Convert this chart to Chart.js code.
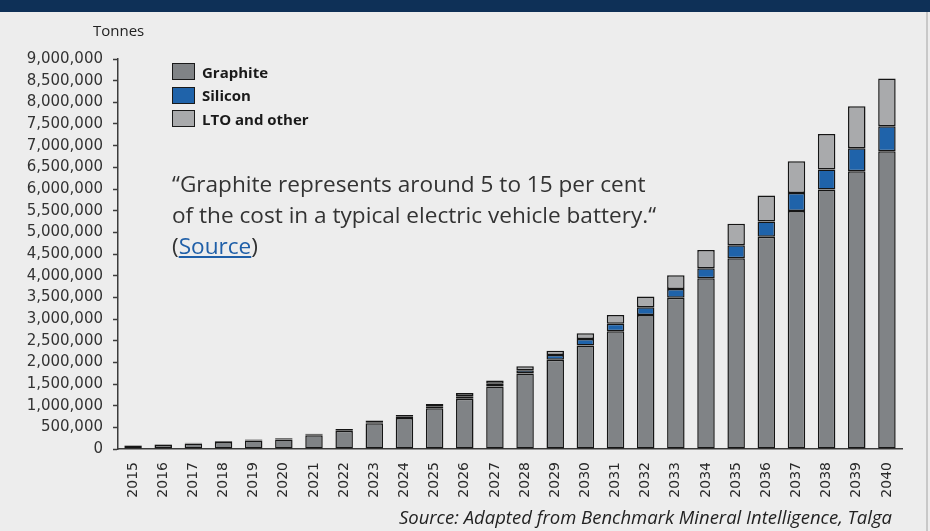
<!DOCTYPE html>
<html>
<head>
<meta charset="utf-8">
<script src="https://cdn.jsdelivr.net/npm/chart.js@4.4.1/dist/chart.umd.min.js"></script>
<style>
  body { margin: 0; background: #ededed; }
  #wrap { position: relative; width: 930px; height: 531px; overflow: hidden; background: #ededed; }
  #topbar { position: absolute; left: 0; top: 0; width: 930px; height: 12px; background: #0e3057; }
  #edge { position: absolute; left: 926px; top: 12px; width: 2px; height: 519px; background: #c8c8c8; }
  canvas { position: absolute; left: 0; top: 0; }
  #unit { position: absolute; left: 93px; top: 20px; font: 15px "Open Sans", sans-serif; color: #222; }
  #legend { position: absolute; left: 172px; top: 60px; font: bold 15px "Open Sans", sans-serif; color: #1a1a1a; }
  #legend div { height: 23.5px; display: flex; align-items: center; }
  #legend span.box { width: 21px; height: 15px; border: 1.5px solid #1a1a1a; margin-right: 7px; display: inline-block; }
  #quote { position: absolute; left: 172px; top: 168px; font: 22.6px "Open Sans", sans-serif; line-height: 31px; color: #333; }
  #quote .link { color: #1f5fa8; text-decoration: underline; }
  #credit { position: absolute; right: 38px; top: 504px; font: italic 18.5px "Open Sans", sans-serif; color: #222; }
</style>
</head>
<body>
<div id="wrap">
  <canvas id="graphiteChart" width="930" height="531"></canvas>
  <div id="topbar"></div>
  <div id="edge"></div>
  <div id="unit">Tonnes</div>
  <div id="legend"></div>
  <div id="quote">“Graphite represents around 5 to 15 per cent<br>of the cost in a typical electric vehicle battery.“<br>(<span class="link">Source</span>)</div>
  <div id="credit">Source: Adapted from Benchmark Mineral Intelligence, Talga</div>
</div>
<script>
// Anode material demand, tonnes per year
const years = [
    '2015', '2016', '2017', '2018', '2019', '2020', '2021', '2022', '2023',
    '2024', '2025', '2026', '2027', '2028', '2029', '2030', '2031', '2032',
    '2033', '2034', '2035', '2036', '2037', '2038', '2039', '2040'
];

const graphite = [
    70000, 95000, 125000, 160000, 195000, 220000, 315000, 420000, 595000,
    715000, 940000, 1160000, 1440000, 1740000, 2060000, 2390000, 2720000, 3090000,
    3490000, 3940000, 4400000, 4900000, 5490000, 5990000, 6410000, 6870000
];

const silicon = [
    5000, 5000, 8000, 10000, 10000, 12000, 15000, 18000, 25000,
    30000, 45000, 60000, 65000, 80000, 110000, 150000, 170000, 180000,
    200000, 230000, 300000, 350000, 420000, 460000, 530000, 580000
];

const ltoOther = [
    10000, 10000, 12000, 15000, 15000, 18000, 20000, 22000, 35000,
    40000, 55000, 70000, 75000, 90000, 100000, 130000, 200000, 250000,
    320000, 420000, 500000, 600000, 730000, 820000, 970000, 1100000
];

const yTicksMax = 9000000;
const yTicksStep = 500000;

const axisColor = '#3c3c3c';

function makeSet(label, data, color) {
    return {
        label: label,
        data: data,
        backgroundColor: color,
        borderColor: '#151515',
        borderWidth: 1.5,
        borderSkipped: false,
        barPercentage: 0.58,
        categoryPercentage: 1.0
    };
}

const chart = new Chart(document.getElementById('graphiteChart'), {
    type: 'bar',
    data: {
        labels: years,
        datasets: [
            makeSet('Graphite', graphite, '#808386'),
            makeSet('Silicon', silicon, '#1f63aa'),
            makeSet('LTO and other', ltoOther, '#a9aaac')
        ]
    },
    options: {
        responsive: false,
        animation: false,
        plugins: {
            legend: { display: false },
            tooltip: { enabled: false }
        },
        layout: {
            padding: { top: 59, right: 28, bottom: 0, left: 0 }
        },
        scales: {
            x: {
                stacked: true,
                afterFit: (scale) => { scale.height = 82; },
                grid: { display: false },
                border: { display: true, color: axisColor, width: 1.5 },
                ticks: {
                    autoSkip: false,
                    minRotation: 90,
                    maxRotation: 90,
                    padding: 5,
                    color: '#2a2a2a',
                    font: { family: 'DejaVu Sans', size: 14 }
                }
            },
            y: {
                stacked: true,
                min: 0,
                max: yTicksMax,
                afterFit: (scale) => { scale.width = 118; },
                grid: {
                    drawOnChartArea: false,
                    drawTicks: true,
                    tickLength: 5,
                    tickWidth: 1.5,
                    tickColor: axisColor
                },
                border: { display: true, color: axisColor, width: 1.5 },
                ticks: {
                    stepSize: yTicksStep,
                    padding: 10,
                    color: '#333',
                    font: { family: 'DejaVu Sans', size: 15 },
                    callback: (v) => v.toLocaleString('en-US')
                }
            }
        }
    }
});

// Vertical legend built from the datasets
const legendBox = document.getElementById('legend');
chart.data.datasets.forEach((ds) => {
    const row = document.createElement('div');
    const box = document.createElement('span');
    box.className = 'box';
    box.style.background = ds.backgroundColor;
    row.appendChild(box);
    row.appendChild(document.createTextNode(ds.label));
    legendBox.appendChild(row);
});
</script>
</body>
</html>
